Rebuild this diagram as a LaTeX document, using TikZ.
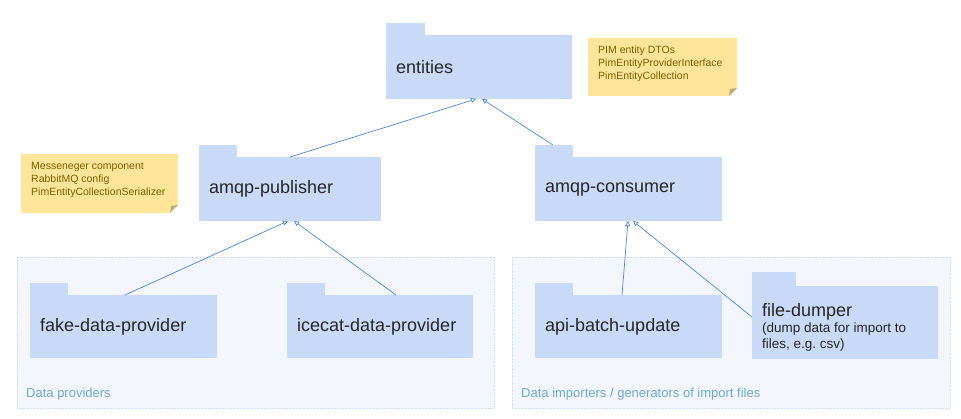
\documentclass[tikz,border=0pt]{standalone}
\usepackage{fontspec}
\setmainfont{Liberation Sans}[Ligatures=NoCommon]
\usepackage{xcolor}
\usetikzlibrary{arrows.meta}

\definecolor{pkgblue}{HTML}{C9DAF8}
\definecolor{noteyellow}{HTML}{FFE599}
\definecolor{notetext}{HTML}{7F6000}
\definecolor{foldgrey}{HTML}{BFAC73}
\definecolor{linkblue}{HTML}{4A86E8}
\definecolor{groupfill}{HTML}{F3F7FD}
\definecolor{groupline}{HTML}{CFE2F3}
\definecolor{grouptext}{HTML}{6FA8DC}

\begin{document}
\begin{tikzpicture}[x=1pt,y=-1pt,
    pkg/.style={fill=pkgblue, anchor=north west, inner xsep=10pt, inner ysep=0pt,
        text width=166pt, align=flush left, minimum height=64pt, text=black!85,
        font=\fontsize{18}{22}\selectfont},
    note/.style={anchor=north west, inner sep=0pt, align=flush left, text=notetext,
        font=\fontsize{10.5}{13}\selectfont},
    group/.style={fill=groupfill, draw=groupline, densely dotted},
    grouplabel/.style={anchor=base west, inner sep=0pt, text=grouptext,
        font=\fontsize{13}{15}\selectfont},
    uses/.style={draw=linkblue, line width=0.7pt, -{Triangle[open, length=5pt, width=5pt]}}
]
    \useasboundingbox (0,0) rectangle (961,419);

    % groups
    \draw[group] (17,257) rectangle (494,408);
    \node[grouplabel] (provlabel) at (26,397) {Data providers};
    \draw[group] (512,257) rectangle (950,408);
    \node[grouplabel] (implabel) at (521,397) {Data importers / generators of import files};

    % packages
    \node[pkg] (entities) at (386,35) {entities};
    \fill[pkgblue] (entities.north west) rectangle ++(39,-12);
    \node[pkg, text width=162pt] (publisher) at (199,157) {amqp-publisher};
    \fill[pkgblue] (publisher.north west) rectangle ++(38,-12);
    \node[pkg, text width=167pt] (consumer) at (535,157) {amqp-consumer};
    \fill[pkgblue] (consumer.north west) rectangle ++(38,-12);
    \node[pkg, minimum height=63pt, text width=167pt] (fake) at (30,295) {fake-data-provider};
    \fill[pkgblue] (fake.north west) rectangle ++(38,-12);
    \node[pkg, minimum height=63pt] (icecat) at (287,295) {icecat-data-provider};
    \fill[pkgblue] (icecat.north west) rectangle ++(38,-12);
    \node[pkg, minimum height=63pt, text width=167pt] (apibatch) at (535,295) {api-batch-update};
    \fill[pkgblue] (apibatch.north west) rectangle ++(38,-12);
    \node[pkg, minimum height=73pt] (dumper) at (752,286)
        {file-dumper\\[0pt]\fontsize{13.5}{16}\selectfont (dump data for import to\\files, e.g.\ csv)\par\vspace{-9pt}};
    \fill[pkgblue] (dumper.north west) rectangle ++(44,-14);

    % notes
    \fill[noteyellow] (588,38) -- (737,38) -- (737,88) -- (729,96) -- (588,96) -- cycle;
    \fill[foldgrey] (737,88) -- (729,96) -- (730,89) -- cycle;
    \node[note] (dtonote) at (598,45.5)
        {PIM entity DTOs\\PimEntityProviderInterface\\PimEntityCollection};
    \fill[noteyellow] (21,154) -- (178,154) -- (178,205) -- (170,213) -- (21,213) -- cycle;
    \fill[foldgrey] (178,205) -- (170,213) -- (171,206) -- cycle;
    \node[note] (msgnote) at (31,162.5)
        {Messeneger component\\RabbitMQ config\\PimEntityCollectionSerializer};

    % dependencies
    \coordinate (entin1) at (476,99);
    \coordinate (entin2) at (482,99);
    \coordinate (pubin1) at (288,221);
    \coordinate (pubin2) at (294,221);
    \coordinate (conin1) at (628,221);
    \coordinate (conin2) at (633,221);
    \draw[uses] (publisher.north -| 290,0) -- (entin1);
    \draw[uses] (553,145) -- (entin2);
    \draw[uses] (fake.north -| 125,0) -- (pubin1);
    \draw[uses] (icecat.north -| 396,0) -- (pubin2);
    \draw[uses] (apibatch.north -| 622,0) -- (conin1);
    \draw[uses] (dumper.west |- 0,317) -- (conin2);
\end{tikzpicture}
\end{document}
